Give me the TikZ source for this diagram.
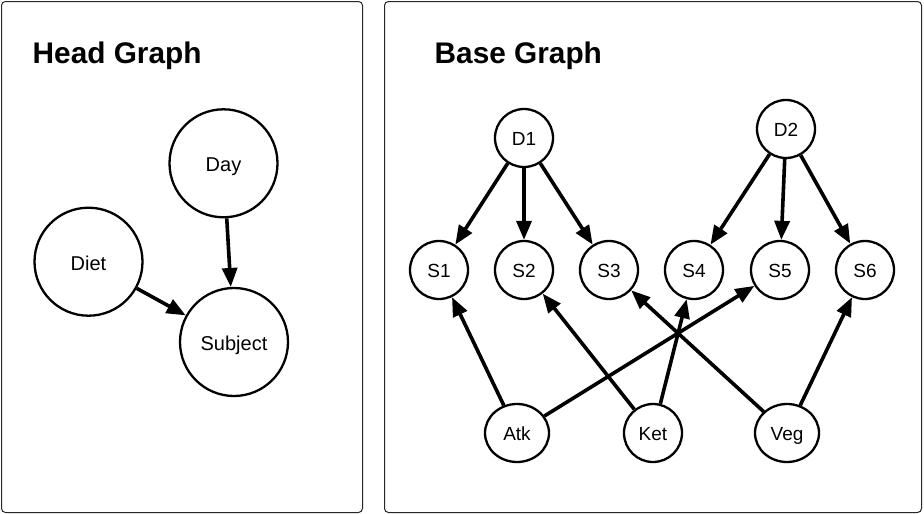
\documentclass[tikz,border=0pt]{standalone}
\usepackage{fontspec}
\setmainfont{Liberation Sans}
\usetikzlibrary{arrows.meta,shapes.geometric}
\begin{document}
\begin{tikzpicture}[x=1pt,y=-1pt,
  panel/.style={draw=black!85, line width=1pt, rounded corners=4pt},
  title/.style={font=\fontsize{29.8}{34}\selectfont\bfseries, anchor=base west, inner sep=0pt},
  bignode/.style={circle, draw, line width=2.3pt, minimum size=108pt, inner sep=0pt,
    font=\fontsize{20}{22}\selectfont, text height=17pt, text depth=0pt},
  smallnode/.style={circle, draw, line width=2.3pt, minimum size=58pt, inner sep=0pt,
    font=\fontsize{19}{22}\selectfont, text height=14pt, text depth=0pt},
  widenode/.style={ellipse, draw, line width=2.3pt, minimum width=64pt, minimum height=58pt, inner sep=0pt,
    font=\fontsize{19}{22}\selectfont, text height=14pt, text depth=0pt},
  edge/.style={-{Triangle[length=19pt,width=15pt]}, line width=3.6pt}
]
\useasboundingbox (0,0) rectangle (924,514);
\fill[white] (0,0) rectangle (924,514);

% panels
\draw[panel] (1.5,1.5) rectangle (362.5,512.5);
\draw[panel] (384.5,1.5) rectangle (921.5,512.5);

% titles
\node[title] (t1) at (32.5,63.3) {Head Graph};
\node[title] (t2) at (434.5,63.3) {Base Graph};

% head graph
\node[bignode] (day) at (223.5,163.3) {Day};
\node[bignode] (diet) at (88.5,261.7) {Diet};
\node[bignode] (subj) at (234,342) {Subject};
\draw[edge] (day) -- (subj);
\draw[edge] (diet) -- (subj);

% base graph
\node[smallnode] (d1) at (524,138) {D1};
\node[smallnode] (d2) at (786,129) {D2};
\node[smallnode] (s1) at (439,270) {S1};
\node[smallnode] (s2) at (524,270) {S2};
\node[smallnode] (s3) at (609,270) {S3};
\node[smallnode] (s4) at (694,270) {S4};
\node[smallnode] (s5) at (780,270) {S5};
\node[smallnode] (s6) at (865,270) {S6};
\node[widenode] (atk) at (517,433) {Atk};
\node[smallnode] (ket) at (653,433) {Ket};
\node[widenode] (veg) at (787,433) {Veg};

\draw[edge] (d1) -- (s1);
\draw[edge] (d1) -- (s2);
\draw[edge] (d1) -- (s3);
\draw[edge] (d2) -- (s4);
\draw[edge] (d2) -- (s5);
\draw[edge] (d2) -- (s6);
\draw[edge] (atk) -- (s1);
\draw[edge] (atk) -- (s5);
\draw[edge] (ket) -- (s2);
\draw[edge] (ket) -- (s4);
\draw[edge] (veg) -- (s3);
\draw[edge] (veg) -- (s6);
\end{tikzpicture}
\end{document}
